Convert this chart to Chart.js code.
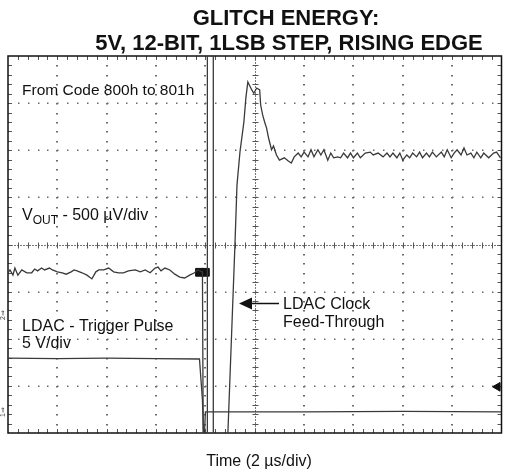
<!DOCTYPE html>
<html>
<head>
<meta charset="utf-8">
<script src="https://cdn.jsdelivr.net/npm/chart.js@4.4.1/dist/chart.umd.min.js"></script>
<style>
  html, body { margin: 0; padding: 0; background: #fff; }
  #wrap { width: 508px; height: 474px; position: relative; }
</style>
</head>
<body>
<div id="wrap"><canvas id="scope"></canvas></div>
<script>
// x in divisions (2 us/div), y in divisions from the bottom of the screen
// levels of -1 / 9 are off screen (clipped), like the scope trace
const voutTime = [
  0, 0.04, 0.1, 0.14, 0.2, 0.28, 0.38, 0.48, 0.54, 0.6, 0.68, 0.74, 0.84, 0.9, 1.0,
  1.1, 1.18, 1.28, 1.34, 1.4, 1.5, 1.6, 1.7, 1.78, 1.84, 1.94, 2.04, 2.14, 2.24, 2.34,
  2.44, 2.58, 2.68, 2.78, 2.88, 2.98, 3.04, 3.1, 3.18, 3.28, 3.38, 3.48, 3.58, 3.68,
  3.78, 3.84, 3.94,
  3.96, 4.04, 4.04, 4.16, 4.16, 4.42,
  4.6, 4.64, 4.7, 4.78, 4.82, 4.86, 4.94, 4.98, 5.04, 5.1, 5.12, 5.16, 5.2, 5.24,
  5.28, 5.34, 5.38, 5.44, 5.5,
  5.6, 5.68, 5.74, 5.8, 5.88, 5.94, 6.0, 6.08, 6.14, 6.2, 6.28, 6.34, 6.4, 6.48,
  6.54, 6.6, 6.68, 6.74, 6.8, 6.88, 6.94, 7.0, 7.08, 7.14, 7.24, 7.34, 7.4, 7.5,
  7.6, 7.68, 7.74, 7.8, 7.88, 7.94, 8.0, 8.08, 8.14, 8.2, 8.28, 8.34, 8.4, 8.48,
  8.54, 8.6, 8.68, 8.78, 8.84, 8.9, 8.98, 9.04, 9.1, 9.18, 9.24, 9.3, 9.38, 9.44,
  9.5, 9.58, 9.64, 9.74, 9.84, 9.9, 9.98
];
const voutLevel = [
  3.40, 3.46, 3.35, 3.50, 3.35, 3.46, 3.40, 3.40, 3.48, 3.44, 3.50, 3.46, 3.50, 3.46, 3.42,
  3.40, 3.37, 3.42, 3.46, 3.44, 3.40, 3.35, 3.27, 3.42, 3.46, 3.46, 3.50, 3.42, 3.40, 3.40,
  3.44, 3.46, 3.42, 3.46, 3.40, 3.50, 3.52, 3.44, 3.50, 3.46, 3.37, 3.31, 3.29, 3.35,
  3.40, 3.46, 3.42,
  -1, -1, 9, 9, -1, -1,
  4.03, 5.26, 5.96, 6.6, 7.11, 7.45, 7.28, 7.21, 7.32, 7.28, 6.96, 6.75, 6.6, 6.47,
  6.26, 6.01, 6.09, 5.9, 5.79,
  5.84, 5.77, 5.73, 5.86, 5.94, 5.86, 5.96, 5.86, 6.01, 5.86, 6.01, 5.9, 6.01, 5.79,
  5.94, 5.84, 5.86, 5.84, 5.94, 5.84, 5.94, 5.84, 5.94, 5.84, 5.94, 5.96, 5.9, 5.94,
  5.86, 5.94, 5.86, 5.94, 5.84, 5.94, 5.79, 5.9, 5.84, 5.94, 5.86, 5.96, 5.84, 5.94,
  5.86, 5.96, 5.86, 5.96, 5.86, 6.01, 5.84, 5.94, 6.01, 5.9, 6.05, 5.9, 5.94, 5.84,
  5.96, 5.84, 5.94, 5.84, 5.94, 5.96, 5.84
];
const ldacTime = [0, 1.0, 2.0, 3.0, 3.88, 3.94, 3.97, 4.0, 6.0, 8.0, 10];
const ldacLevel = [1.59, 1.58, 1.59, 1.58, 1.57, 0.7, -0.3, 0.45, 0.45, 0.46, 0.45];
const markerTime = [3.88, 4.0];
const markerLevel = [3.41, 3.41];
const trigTime = [9.92];
const trigLevel = [0.98];

const toXY = (xs, ys) => xs.map((t, i) => ({ x: t, y: ys[i] }));

const FONT = "'Liberation Sans', Arial, sans-serif";

const graticule = {
  id: 'graticule',
  beforeDatasetsDraw(chart) {
    const { ctx, chartArea: a, scales: { x, y } } = chart;
    ctx.save();
    // dotted grid
    ctx.fillStyle = '#6a6a6a';
    for (let i = 1; i < 10; i++) {
      if (i === 5) continue;
      const px = Math.round(x.getPixelForValue(i));
      for (let k = 1; k < 40; k++) {
        const py = Math.round(y.getPixelForValue(k * 0.2));
        ctx.fillRect(px - 1, py, 2, 1.5);
      }
    }
    for (let j = 1; j < 8; j++) {
      if (j === 4) continue;
      const py = Math.round(y.getPixelForValue(j));
      for (let k = 1; k < 50; k++) {
        const px = Math.round(x.getPixelForValue(k * 0.2));
        ctx.fillRect(px, py - 0.5, 1.5, 1.5);
      }
    }
    // centre axes
    const cx = Math.round(x.getPixelForValue(5)) + 0.5;
    const cy = Math.round(y.getPixelForValue(4)) + 0.5;
    ctx.strokeStyle = '#777';
    ctx.lineWidth = 1;
    ctx.setLineDash([2, 1]);
    ctx.beginPath();
    ctx.moveTo(a.left, cy); ctx.lineTo(a.right, cy);
    ctx.moveTo(cx, a.top); ctx.lineTo(cx, a.bottom);
    ctx.stroke();
    ctx.setLineDash([]);
    ctx.strokeStyle = '#555';
    ctx.beginPath();
    for (let k = 1; k < 50; k++) {
      const px = Math.round(x.getPixelForValue(k * 0.2)) + 0.5;
      ctx.moveTo(px, cy - 3); ctx.lineTo(px, cy + 3);
      ctx.moveTo(px, a.top); ctx.lineTo(px, a.top + 4);
      ctx.moveTo(px, a.bottom); ctx.lineTo(px, a.bottom - 4);
    }
    for (let k = 1; k < 40; k++) {
      const py = Math.round(y.getPixelForValue(k * 0.2)) + 0.5;
      ctx.moveTo(cx - 3, py); ctx.lineTo(cx + 3, py);
      ctx.moveTo(a.left, py); ctx.lineTo(a.left + 4, py);
      ctx.moveTo(a.right, py); ctx.lineTo(a.right - 4, py);
    }
    ctx.stroke();
    // frame
    ctx.strokeStyle = '#111';
    ctx.lineWidth = 1.5;
    ctx.strokeRect(a.left, a.top, a.right - a.left, a.bottom - a.top);
    ctx.restore();
  }
};

const labels = {
  id: 'labels',
  afterDatasetsDraw(chart) {
    const { ctx, chartArea: a } = chart;
    ctx.save();
    ctx.fillStyle = '#111';
    ctx.textBaseline = 'alphabetic';
    ctx.textAlign = 'center';
    ctx.font = 'bold 22px ' + FONT;
    ctx.fillText('GLITCH ENERGY:', 286, 25);
    ctx.fillText('5V, 12-BIT, 1LSB STEP, RISING EDGE', 289, 50);

    ctx.font = '16px ' + FONT;
    ctx.fillText('Time (2 \u00b5s/div)', 259, 466);

    ctx.font = '15.5px ' + FONT;
    ctx.textAlign = 'left';
    ctx.fillText('From Code 800h to 801h', a.left + 14, 95);
    ctx.font = '16px ' + FONT;
    ctx.fillText('V', a.left + 14, 220);
    let w = ctx.measureText('V').width;
    ctx.font = '12px ' + FONT;
    ctx.fillText('OUT', a.left + 14 + w, 224);
    w += ctx.measureText('OUT').width;
    ctx.font = '16px ' + FONT;
    ctx.fillText(' - 500 \u00b5V/div', a.left + 14 + w, 220);
    ctx.fillText('LDAC - Trigger Pulse', a.left + 14, 331);
    ctx.fillText('5 V/div', a.left + 14, 348);
    ctx.fillText('LDAC Clock', 283, 309);
    ctx.fillText('Feed-Through', 283, 327);

    // arrow pointing at the clock feed-through edge
    ctx.strokeStyle = '#111';
    ctx.lineWidth = 1.5;
    ctx.beginPath();
    ctx.moveTo(279, 303.5); ctx.lineTo(250, 303.5);
    ctx.stroke();
    ctx.beginPath();
    ctx.moveTo(239, 303.5); ctx.lineTo(252, 297.5); ctx.lineTo(252, 309.5);
    ctx.closePath();
    ctx.fill();

    // small channel tags on the left edge
    ctx.font = '7px ' + FONT;
    ctx.fillStyle = '#444';
    ctx.translate(5, 315);
    ctx.rotate(-Math.PI / 2);
    ctx.textAlign = 'center';
    ctx.fillText('2\u21d2', 0, 0);
    ctx.rotate(Math.PI / 2);
    ctx.translate(0, 97);
    ctx.rotate(-Math.PI / 2);
    ctx.fillText('1\u21d2', 0, 0);
    ctx.restore();
  }
};

new Chart(document.getElementById('scope'), {
  type: 'scatter',
  data: {
    datasets: [
      {
        label: 'VOUT',
        data: toXY(voutTime, voutLevel),
        showLine: true,
        borderColor: '#3a3a3a',
        borderWidth: 1.3,
        pointRadius: 0,
        tension: 0
      },
      {
        label: 'LDAC',
        data: toXY(ldacTime, ldacLevel),
        showLine: true,
        borderColor: '#3a3a3a',
        borderWidth: 1.3,
        pointRadius: 0,
        tension: 0
      },
      {
        label: 'markers',
        data: toXY(markerTime, markerLevel),
        pointStyle: 'rect',
        pointRadius: 5.5,
        backgroundColor: '#111',
        borderColor: '#111'
      },
      {
        label: 'trigger',
        data: toXY(trigTime, trigLevel),
        pointStyle: 'triangle',
        rotation: -90,
        pointRadius: 5,
        backgroundColor: '#111',
        borderColor: '#111'
      }
    ]
  },
  options: {
    responsive: true,
    maintainAspectRatio: false,
    animation: false,
    layout: { padding: { left: 8, top: 56, right: 1, bottom: 41 } },
    plugins: {
      legend: { display: false },
      tooltip: { enabled: false },
      title: { display: false }
    },
    scales: {
      x: { type: 'linear', min: 0, max: 10, display: false },
      y: { type: 'linear', min: 0, max: 8, display: false }
    }
  },
  plugins: [graticule, labels]
});
</script>
</body>
</html>
